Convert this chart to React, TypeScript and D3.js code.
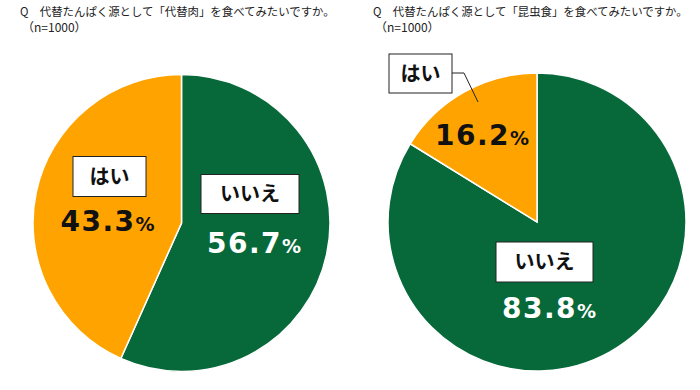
import { arc, pie } from 'd3'

const answers = ['いいえ', 'はい']
const meatShares = [56.7, 43.3]
const insectShares = [83.8, 16.2]
const titles = [
  'Q　代替たんぱく源として「代替肉」を食べてみたいですか。',
  'Q　代替たんぱく源として「昆虫食」を食べてみたいですか。',
]
const sampleNote = '（n=1000）'

const GREEN = '#07693a'
const ORANGE = '#ffa300'

interface LabelPos {
  box: [number, number, number, number] // x, y, w, h relative to pie centre
  value: [number, number]
  leader?: Array<[number, number]>
}

interface PieProps {
  shares: number[]
  title: string
  left: number
  cx: number
  cy: number
  r: number
  labels: LabelPos[]
}

function Pie({ shares, title, left, cx, cy, r, labels }: PieProps) {
  const data = answers.map((a, i) => ({ label: a, value: shares[i] }))
  const arcs = pie<{ label: string; value: number }>()
    .sort(null)
    .value((d) => d.value)(data)
  const path = arc<any>().innerRadius(0).outerRadius(r)
  const colors = [GREEN, ORANGE]
  const textColors = ['#ffffff', '#111111']

  return (
    <g>
      <text x={left} y={16} fontSize={11.4} fontFamily="'Noto Sans CJK JP', sans-serif" fill="#222">
        {title}
      </text>
      <text x={left + 2} y={32} fontSize={12} fontFamily="'Noto Sans CJK JP', sans-serif" fill="#222">
        {sampleNote}
      </text>
      <g transform={`translate(${cx},${cy})`}>
        {arcs.map((a, i) => (
          <path key={a.data.label} d={path(a) ?? ''} fill={colors[i]} stroke="#fff" strokeWidth={1.5} />
        ))}
        {arcs.map((a, i) => {
          const l = labels[i]
          const [bx, by, bw, bh] = l.box
          return (
            <g key={`lab-${a.data.label}`}>
              {l.leader && (
                <polyline
                  points={l.leader.map((p) => p.join(',')).join(' ')}
                  fill="none"
                  stroke="#222"
                  strokeWidth={1}
                />
              )}
              <rect x={bx} y={by} width={bw} height={bh} fill="#fff" stroke="#222" strokeWidth={1} />
              <text
                x={bx + bw / 2}
                y={by + bh / 2 + 7}
                textAnchor="middle"
                fontSize={20}
                fontWeight={700}
                fontFamily="'Noto Sans CJK JP', sans-serif"
                fill="#111"
              >
                {a.data.label}
              </text>
              <text
                x={l.value[0]}
                y={l.value[1]}
                textAnchor="middle"
                fontWeight={700}
                letterSpacing={1.5}
                fontFamily="'DejaVu Sans', Verdana, sans-serif"
                fill={textColors[i]}
              >
                <tspan fontSize={28}>{a.data.value.toFixed(1)}</tspan>
                <tspan fontSize={19} letterSpacing={0}>%</tspan>
              </text>
            </g>
          )
        })}
      </g>
    </g>
  )
}

export default function App() {
  return (
    <svg
      width={700}
      height={390}
      style={{ position: 'absolute', left: 0, top: 0, background: '#fff' }}
    >
      <Pie
        shares={meatShares}
        title={titles[0]}
        left={20}
        cx={181.5}
        cy={223}
        r={148.5}
        labels={[
          { box: [19.5, -48.5, 98, 39], value: [72.5, 30] },
          { box: [-108.5, -66.5, 73, 40], value: [-74, 8] },
        ]}
      />
      <Pie
        shares={insectShares}
        title={titles[1]}
        left={373}
        cx={537}
        cy={222}
        r={149}
        labels={[
          { box: [-41, 20, 97, 40], value: [12, 96] },
          {
            box: [-148, -168, 63, 39],
            value: [-55, -77],
            leader: [
              [-85, -149],
              [-73, -149],
              [-59, -120],
            ],
          },
        ]}
      />
    </svg>
  )
}
